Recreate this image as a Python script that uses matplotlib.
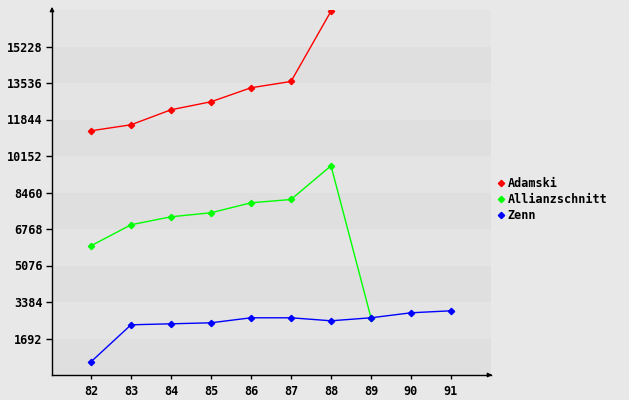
import matplotlib
matplotlib.use("Agg")
import matplotlib.pyplot as plt
from matplotlib.lines import Line2D

years = [82, 83, 84, 85, 86, 87, 88, 89, 90, 91]
adamski_x = [82, 83, 84, 85, 86, 87, 88]
adamski = [11321, 11599, 12295, 12666, 13315, 13607, 16866]
allianz_x = [82, 83, 84, 85, 86, 87, 88, 89]
allianz = [5990, 6963, 7334, 7520, 7983, 8136, 9699, 2652]
zenn_x = [82, 83, 84, 85, 86, 87, 88, 89, 90, 91]
zenn = [612, 2327, 2373, 2420, 2652, 2652, 2513, 2652, 2884, 2976]
yticks = [1692, 3384, 5076, 6768, 8460, 10152, 11844, 13536, 15228]
series_names = ["Adamski", "Allianzschnitt", "Zenn"]
colors = ["#ff0000", "#00ff00", "#0000ff"]

W, H = 629, 400
fig = plt.figure(figsize=(W / 100, H / 100), dpi=100, facecolor="#e8e8e8")
ax = fig.add_axes([52 / W, 25 / H, (491 - 52) / W, (375 - 10) / H])
ax.set_facecolor("#e8e8e8")
ymax = 16920
ax.set_ylim(0, ymax)
ax.set_xlim(81.025, 92.0)

step = 1692
for i in range(10):
    c = "#dfdfdf" if i % 2 == 0 else "#e4e4e4"
    ax.axhspan(i * step, (i + 1) * step, color=c, lw=0, zorder=0)

font = dict(family="DejaVu Sans Mono", weight="bold", size=8.5)
for xs, ys, c in zip([adamski_x, allianz_x, zenn_x], [adamski, allianz, zenn], colors):
    ax.plot(xs, ys, color=c, lw=1, marker="D", ms=3.2, mec=c, mfc=c, zorder=3)

for s in ["top", "right"]:
    ax.spines[s].set_visible(False)
for s in ["left", "bottom"]:
    ax.spines[s].set_color("black")
    ax.spines[s].set_linewidth(1)

ax.set_yticks(yticks)
ax.set_yticklabels([str(v) for v in yticks], fontdict=font)
ax.set_xticks(years)
ax.set_xticklabels([str(v) for v in years], fontdict=font)
ax.tick_params(axis="y", direction="out", length=4, width=1, pad=3, colors="black")
ax.tick_params(axis="x", direction="out", length=3, width=1, pad=4, colors="black")

# arrows at axis ends
ax.annotate("", xy=(0, (375 - 4) / 365), xytext=(0, 0.99), xycoords="axes fraction",
            arrowprops=dict(arrowstyle="-|>", color="black", lw=1, mutation_scale=6),
            annotation_clip=False)
ax.annotate("", xy=((495 - 52) / 439, 0), xytext=(0.99, 0), xycoords="axes fraction",
            arrowprops=dict(arrowstyle="-|>", color="black", lw=1, mutation_scale=6),
            annotation_clip=False)

handles = [Line2D([], [], color=c, marker="D", ms=3.2, lw=0) for c in colors]
leg = fig.legend(handles, series_names, loc="upper left",
                 bbox_to_anchor=(497 / W, 1 - 177 / H), frameon=False,
                 prop=dict(family="DejaVu Sans Mono", weight="bold", size=8.5),
                 handlelength=0.6, handletextpad=0.3, labelspacing=0.25,
                 borderpad=0, borderaxespad=0)

fig.savefig("out.png", dpi=100, facecolor=fig.get_facecolor())
